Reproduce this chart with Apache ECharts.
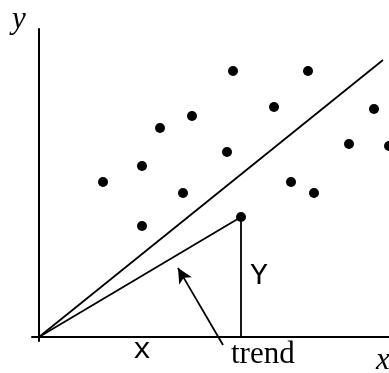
<!DOCTYPE html>
<html><head><meta charset="utf-8">
<script src="https://cdn.jsdelivr.net/npm/echarts@6/dist/echarts.min.js"></script>
<style>html,body{margin:0;padding:0;background:#fff}#c{width:389px;height:373px}</style>
</head><body><div id="c"></div>
<script>
// scatter points (x, y in chart units; origin at axes intersection)
const pointsX = [64, 103, 121, 153, 144, 103, 194, 269, 235, 335, 188, 310, 350, 252, 275];
const pointsY = [155, 171, 209, 221, 144, 111, 266, 266, 230, 228, 185, 193, 191, 155, 144];
// highlighted point (vertex of triangle)
const vertex = [202, 120];
// trend line end
const trendEnd = [344, 277];
// arrow from label to trend line
const arrowTail = [184, -8];
const arrowTip = [139, 69];
// axis ranges
const xRange = [-7, 350];
const yRange = [-4, 308];

const chart = echarts.init(document.getElementById('c'), null, {renderer: 'canvas'});
const black = '#000';
const pts = pointsX.map((x, i) => [x, pointsY[i]]);
const headFrom = [arrowTip[0] + (arrowTail[0] - arrowTip[0]) * 0.3, arrowTip[1] + (arrowTail[1] - arrowTip[1]) * 0.3];
chart.setOption({
  animation: false,
  grid: {left: 32, right: 0, top: 29, bottom: 32},
  xAxis: {type: 'value', min: xRange[0], max: xRange[1],
    axisLine: {show: true, onZero: true, lineStyle: {color: black, width: 2}},
    axisTick: {show: false}, axisLabel: {show: false}, splitLine: {show: false}},
  yAxis: {type: 'value', min: yRange[0], max: yRange[1],
    axisLine: {show: true, onZero: true, lineStyle: {color: black, width: 2}},
    axisTick: {show: false}, axisLabel: {show: false}, splitLine: {show: false}},
  series: [
    {type: 'line', data: [[0, 0], trendEnd], symbol: 'none', clip: false,
      lineStyle: {color: black, width: 1.8}},
    {type: 'line', data: [[0, 0], vertex, [vertex[0], 0]], symbol: 'none', clip: false,
      lineStyle: {color: black, width: 1.8}},
    {type: 'line', data: [arrowTail, headFrom], symbol: 'none', clip: false,
      lineStyle: {color: black, width: 1.8},
      markLine: {silent: true, animation: false, label: {show: false},
        lineStyle: {color: black, width: 1.8, type: 'solid'},
        symbolSize: [11, 15],
        data: [[{coord: headFrom, symbol: 'none'}, {coord: arrowTip, symbol: 'arrow'}]]}},
    {type: 'scatter', data: pts.concat([vertex]), symbolSize: 10, clip: false,
      itemStyle: {color: black, opacity: 1}}
  ],
  graphic: [
    {type: 'text', left: 12, top: 4, style: {text: 'y', fontStyle: 'italic', fontSize: 31, fontFamily: 'Liberation Serif', fill: black}},
    {type: 'text', left: 376, top: 345, style: {text: 'x', fontStyle: 'italic', fontSize: 31, fontFamily: 'Liberation Serif', fill: black}},
    {type: 'text', left: 231, top: 339, style: {text: 'trend', fontSize: 31, fontFamily: 'Liberation Serif', fill: black}},
    {type: 'text', left: 250, top: 261, style: {text: 'Y', fontSize: 30, fontFamily: 'Liberation Mono', fill: black}},
    {type: 'text', left: 133, top: 335, style: {text: 'x', fontSize: 30, fontFamily: 'Liberation Mono', fill: black}}
  ]
});
</script></body></html>
